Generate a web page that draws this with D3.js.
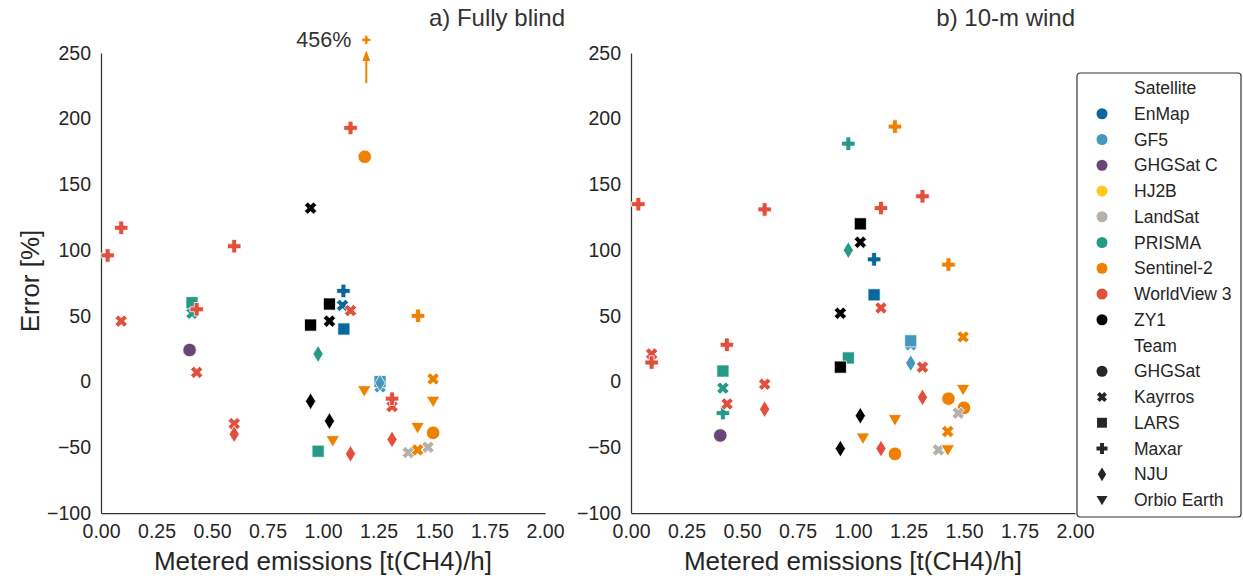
<!DOCTYPE html>
<html>
<head>
<meta charset="utf-8">
<script src="https://cdn.jsdelivr.net/npm/d3@7"></script>
<style>
  body { margin: 0; background: #fff; }
  svg { font-family: "Liberation Sans", Arial, sans-serif; }
</style>
</head>
<body>
<svg id="chart" width="1243" height="579"></svg>
<script>
// legend categories
const satellites = ["EnMap", "GF5", "GHGSat C", "HJ2B", "LandSat", "PRISMA", "Sentinel-2", "WorldView 3", "ZY1"];
const satColors = ["#08689b", "#4598bb", "#6c4577", "#fdc91f", "#b5b1aa", "#269a86", "#ee8200", "#e1503c", "#000000"];
const teams = ["GHGSat", "Kayrros", "LARS", "Maxar", "NJU", "Orbio Earth"];

const xTicks = [0, 0.25, 0.5, 0.75, 1, 1.25, 1.5, 1.75, 2];
const yTicks = [-100, -50, 0, 50, 100, 150, 200, 250];
const yCap = 260; // values above this get drawn at the cap with a label

// a) Fully blind
const blindSat = ["WorldView 3","WorldView 3","WorldView 3","WorldView 3","WorldView 3","WorldView 3",
  "PRISMA","PRISMA","WorldView 3","GHGSat C","WorldView 3",
  "ZY1","ZY1","ZY1","ZY1","ZY1","ZY1","PRISMA","PRISMA",
  "EnMap","EnMap","EnMap","WorldView 3","WorldView 3","WorldView 3",
  "Sentinel-2","Sentinel-2","Sentinel-2","Sentinel-2",
  "GF5","GF5","GF5","WorldView 3","WorldView 3","WorldView 3",
  "LandSat","LandSat","Sentinel-2","Sentinel-2","Sentinel-2","Sentinel-2","Sentinel-2","Sentinel-2"];
const blindTeam = ["Maxar","Maxar","Kayrros","Maxar","Kayrros","NJU",
  "Kayrros","LARS","Maxar","GHGSat","Kayrros",
  "Kayrros","LARS","NJU","LARS","Kayrros","NJU","NJU","LARS",
  "Maxar","Kayrros","LARS","Kayrros","Maxar","NJU",
  "GHGSat","Maxar","Orbio Earth","Orbio Earth",
  "Kayrros","LARS","NJU","Kayrros","Maxar","NJU",
  "Kayrros","Kayrros","Maxar","Orbio Earth","Kayrros","Kayrros","Orbio Earth","GHGSat"];
const blindX = [0.030,0.091,0.091,0.600,0.600,0.600,
  0.410,0.410,0.431,0.399,0.431,
  0.944,0.944,0.944,1.029,1.029,1.029,0.978,0.978,
  1.092,1.088,1.094,1.124,1.124,1.124,
  1.188,1.195,1.186,1.044,
  1.257,1.257,1.257,1.311,1.311,1.311,
  1.384,1.473,1.428,1.426,1.426,1.496,1.496,1.496];
const blindY = [96,117,46,103,-32,-40,
  52,60,55,24,7,
  132,43,-15,59,46,-30,21,-53,
  69,58,40,54,193,-55,
  171,456,-7,-45,
  -4,0,-1,-19,-13,-44,
  -54,-50,50,-35,-52,2,-15,-39];

// b) 10-m wind
const windSat = ["WorldView 3","WorldView 3","WorldView 3","WorldView 3","WorldView 3","WorldView 3",
  "PRISMA","PRISMA","PRISMA","WorldView 3","WorldView 3","GHGSat C",
  "PRISMA","PRISMA","PRISMA","ZY1","ZY1","ZY1","ZY1","ZY1","ZY1",
  "EnMap","EnMap","WorldView 3","WorldView 3","WorldView 3",
  "Sentinel-2","Sentinel-2","Sentinel-2","Sentinel-2",
  "GF5","GF5","GF5","WorldView 3","WorldView 3","WorldView 3",
  "Sentinel-2","Sentinel-2","Sentinel-2","LandSat","Sentinel-2","Sentinel-2","Sentinel-2","Sentinel-2","LandSat"];
const windTeam = ["Maxar","Kayrros","Maxar","Maxar","Kayrros","NJU",
  "LARS","Kayrros","Maxar","Maxar","Kayrros","GHGSat",
  "Maxar","NJU","LARS","LARS","Kayrros","NJU","Kayrros","LARS","NJU",
  "Maxar","LARS","Maxar","Kayrros","NJU",
  "Maxar","Orbio Earth","GHGSat","Orbio Earth",
  "Kayrros","LARS","NJU","Maxar","Kayrros","NJU",
  "Maxar","GHGSat","Kayrros","Kayrros","Orbio Earth","Kayrros","Orbio Earth","GHGSat","Kayrros"];
const windX = [0.033,0.093,0.093,0.602,0.602,0.602,
  0.414,0.414,0.414,0.432,0.433,0.402,
  0.979,0.979,0.979,1.033,1.033,1.033,0.943,0.943,0.943,
  1.095,1.095,1.126,1.126,1.126,
  1.189,1.189,1.189,1.045,
  1.260,1.260,1.260,1.313,1.313,1.313,
  1.430,1.430,1.427,1.385,1.427,1.496,1.496,1.500,1.474];
const windY = [135,21,14.5,131,-2,-21,
  8,-5,-24,28,-17,-41,
  181,100,18,120,106,-26,52,11,-51,
  93,66,132,56,-51,
  194,-29,-55,-43,
  28,31,14,141,11,-12,
  89,-13,-38,-52,-52,34,-6,-20,-24];

const svg = d3.select("#chart");
const color = d3.scaleOrdinal(satellites, satColors);
const ink = "#262626";

// matplotlib-like marker outlines, centred on 0,0
function markerPath(team, s) {
  const h = s / 2;
  const p = d3.path();
  if (team === "GHGSat") {
    p.arc(0, 0, h, 0, 2 * Math.PI);
  } else if (team === "LARS") {
    const a = h * 0.9;
    p.rect(-a, -a, 2 * a, 2 * a);
  } else if (team === "Maxar" || team === "Kayrros") {
    const w = h * 0.36;
    let pts = [[-w,-h],[w,-h],[w,-w],[h,-w],[h,w],[w,w],[w,h],[-w,h],[-w,w],[-h,w],[-h,-w],[-w,-w]];
    if (team === "Kayrros") {
      const c = Math.SQRT1_2;
      pts = pts.map(([x, y]) => [(x - y) * c * 0.95, (x + y) * c * 0.95]);
    }
    p.moveTo(pts[0][0], pts[0][1]);
    pts.slice(1).forEach(q => p.lineTo(q[0], q[1]));
  } else if (team === "NJU") {
    const hw = h * 0.76, hh = h * 1.25;
    p.moveTo(0, -hh); p.lineTo(hw, 0); p.lineTo(0, hh); p.lineTo(-hw, 0);
  } else {
    const hw = h, top = -h * 0.75, bot = h * 0.95;
    p.moveTo(-hw, top); p.lineTo(hw, top); p.lineTo(0, bot);
  }
  p.closePath();
  return p.toString();
}

const panels = [
  { title: "a) Fully blind", titleX: 565, left: 101, sat: blindSat, team: blindTeam, xs: blindX, ys: blindY, ylabel: true },
  { title: "b) 10-m wind", titleX: 1075, left: 631, sat: windSat, team: windTeam, xs: windX, ys: windY, ylabel: false }
];

panels.forEach(pn => {
  const x = d3.scaleLinear([0, 2], [pn.left, pn.left + 444]);
  const y = d3.scaleLinear([-100, 250], [513, 53]);
  const g = svg.append("g");

  const xAxis = g.append("g").attr("transform", "translate(0,513)")
    .call(d3.axisBottom(x).tickValues(xTicks).tickFormat(d3.format(".2f")).tickSize(0).tickPadding(11));
  const yAxis = g.append("g").attr("transform", `translate(${pn.left},0)`)
    .call(d3.axisLeft(y).tickValues(yTicks).tickSize(0).tickPadding(10));
  [xAxis, yAxis].forEach(a => {
    a.select(".domain").attr("stroke", "#333").attr("stroke-width", 1.25);
    a.selectAll("text").attr("fill", ink).style("font-size", "19.5px").style("font-family", "Liberation Sans, Arial, sans-serif");
  });

  g.append("text").attr("x", pn.left + 222).attr("y", 570)
    .attr("text-anchor", "middle").attr("fill", ink).style("font-size", "26px")
    .text("Metered emissions [t(CH4)/h]");
  if (pn.ylabel) {
    g.append("text").attr("transform", "translate(39,281) rotate(-90)")
      .attr("text-anchor", "middle").attr("fill", ink).style("font-size", "26px")
      .text("Error [%]");
  }
  g.append("text").attr("x", pn.titleX).attr("y", 26)
    .attr("text-anchor", "end").attr("fill", "#333").style("font-size", "24px")
    .text(pn.title);

  const idx = d3.range(pn.xs.length);
  g.append("g").selectAll("path").data(idx).join("path")
    .attr("d", i => markerPath(pn.team[i], pn.ys[i] > yCap ? 9 : 13.5))
    .attr("transform", i => `translate(${x(pn.xs[i])},${y(Math.min(pn.ys[i], yCap))})`)
    .attr("fill", i => color(pn.sat[i]))
    .attr("stroke", "#fff").attr("stroke-width", 0.8);

  // outliers above the cap: arrow + value label
  idx.filter(i => pn.ys[i] > yCap).forEach(i => {
    const cx = x(pn.xs[i]);
    const c = color(pn.sat[i]);
    g.append("line").attr("x1", cx).attr("x2", cx)
      .attr("y1", y(227)).attr("y2", y(244))
      .attr("stroke", c).attr("stroke-width", 2);
    g.append("path")
      .attr("d", `M${cx - 4},${y(244)}L${cx + 4},${y(244)}L${cx},${y(252)}Z`)
      .attr("fill", c);
    g.append("text").attr("x", cx - 15).attr("y", y(yCap) + 7)
      .attr("text-anchor", "end").attr("fill", "#333").style("font-size", "21.5px")
      .text(d3.format("d")(pn.ys[i]) + "%");
  });
});

// legend
const lg = svg.append("g").attr("transform", "translate(1077,73)");
lg.append("rect").attr("width", 164).attr("height", 444).attr("rx", 3)
  .attr("fill", "#fff").attr("stroke", "#333").attr("stroke-width", 1.2);
const rows = [{ label: "Satellite" }]
  .concat(satellites.map(s => ({ label: s, sat: s })))
  .concat([{ label: "Team" }])
  .concat(teams.map(t => ({ label: t, team: t })));
const rowY = d3.scaleLinear([0, rows.length - 1], [15, 427]);
rows.forEach((r, i) => {
  const yy = rowY(i);
  if (r.sat) {
    lg.append("circle").attr("cx", 25).attr("cy", yy).attr("r", 5.5).attr("fill", color(r.sat));
  } else if (r.team) {
    lg.append("path").attr("d", markerPath(r.team, 11))
      .attr("transform", `translate(25,${yy})`).attr("fill", "#262626");
  }
  lg.append("text").attr("x", 57).attr("y", yy + 6)
    .attr("fill", ink).style("font-size", "17.5px").text(r.label);
});
</script>
</body>
</html>
